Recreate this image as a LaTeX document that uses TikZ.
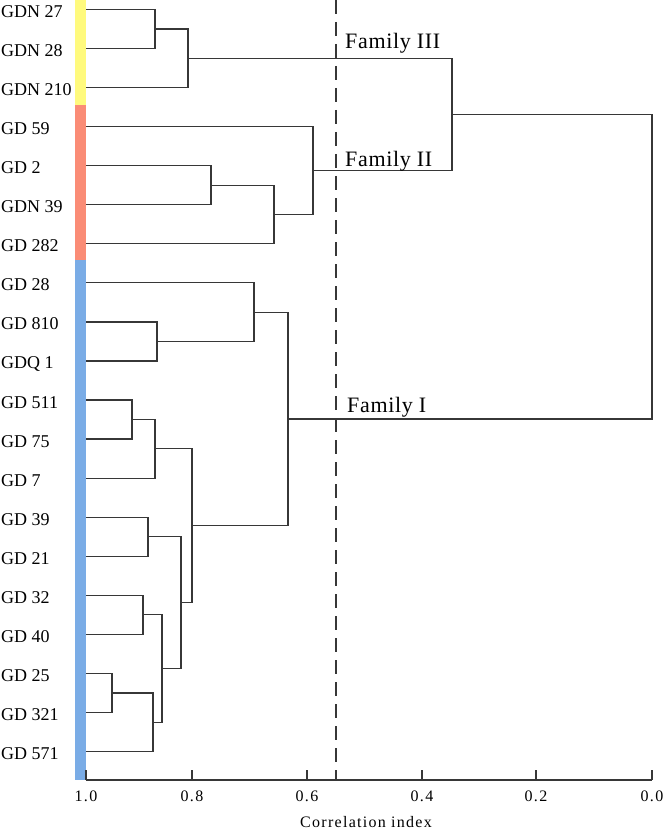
\documentclass[tikz,border=0pt]{standalone}
\usepackage{fontspec}
\setmainfont{Liberation Serif}
\newfontfamily\axisfont[LetterSpace=8]{Liberation Serif}
\newfontfamily\famfont[LetterSpace=3]{Liberation Serif}
\definecolor{linegray}{RGB}{55,55,55}
\definecolor{famthree}{RGB}{255,250,125}
\definecolor{famtwo}{RGB}{250,140,118}
\definecolor{famone}{RGB}{122,172,230}
\tikzset{
  leaf/.style={anchor=base west, inner sep=0pt, font=\fontsize{18}{18}\selectfont},
  link/.style={draw=linegray, line width=1.2pt},
  cutline/.style={draw=linegray, line width=1.5pt, dash pattern=on 14pt off 8pt},
  famlabel/.style={anchor=base west, inner sep=0pt, font=\famfont\fontsize{22}{22}\selectfont},
  ticklabel/.style={anchor=base, inner sep=0pt, font=\axisfont\fontsize{16}{16}\selectfont}
}

\begin{document}
\begin{tikzpicture}[x=1pt, y=-1pt]
\useasboundingbox (0,0) rectangle (664,829);

\fill[famthree] (75,0) rectangle (86,105);
\fill[famtwo] (75,105) rectangle (86,260);
\fill[famone] (75,260) rectangle (86,780);

\foreach \name [count=\i from 0] in {GDN 27,GDN 28,GDN 210,GD 59,GD 2,GDN 39,GD 282,GD 28,GD 810,GDQ 1,GD 511,GD 75,GD 7,GD 39,GD 21,GD 32,GD 40,GD 25,GD 321,GD 571} {
  \node[leaf] (n\i) at (1, 9.5+39.05*\i+8) {\name};
  \coordinate (l\i) at (86, 9.5+39.05*\i);
}

\coordinate (m1) at (155,29.0);
\coordinate (m2) at (188,58.3);
\coordinate (m3) at (211,185.2);
\coordinate (m4) at (274,214.5);
\coordinate (m5) at (313,170.6);
\coordinate (m6) at (452,114.5);
\coordinate (m7) at (157,341.4);
\coordinate (m8) at (254,312.1);
\coordinate (m9) at (132,419.5);
\coordinate (m10) at (155,448.8);
\coordinate (m11) at (148,536.7);
\coordinate (m12) at (143,614.8);
\coordinate (m13) at (112,692.9);
\coordinate (m14) at (153,722.2);
\coordinate (m15) at (162,668.5);
\coordinate (m16) at (181,602.6);
\coordinate (m17) at (192,525.7);
\coordinate (m18) at (288,418.9);
\coordinate (root) at (652,266.7);

\foreach \a/\b in {l0/m1,l1/m1,m1/m2,l2/m2,l4/m3,l5/m3,m3/m4,l6/m4,l3/m5,m4/m5,m2/m6,m5/m6,
  l8/m7,l9/m7,l7/m8,m7/m8,l10/m9,l11/m9,m9/m10,l12/m10,l13/m11,l14/m11,l15/m12,l16/m12,
  l17/m13,l18/m13,m13/m14,l19/m14,m12/m15,m14/m15,m11/m16,m15/m16,m10/m17,m16/m17,
  m8/m18,m17/m18,m6/root,m18/root}
  \draw[link] (\a) -| (\b);

\coordinate (axl) at (86,780);
\coordinate (axr) at (652,780);
\draw[link] (axl) -- (axr);
\foreach \x/\v in {86/1.0,192/0.8,307/0.6,422/0.4,536/0.2,652/0.0} {
  \draw[link] (\x,780) -- (\x,770);
  \node[ticklabel] (t\x) at (\x,801) {\v};
}
\node[ticklabel] (axtitle) at (366,827) {Correlation index};

\coordinate (cuttop) at (336,0);
\coordinate (cutbot) at (336,780);
\draw[cutline] (cuttop) -- (cutbot);

\node[famlabel] (fam3) at (345,49) {Family III};
\node[famlabel] (fam2) at (345,167) {Family II};
\node[famlabel] (fam1) at (347,412) {Family I};
\end{tikzpicture}
\end{document}
